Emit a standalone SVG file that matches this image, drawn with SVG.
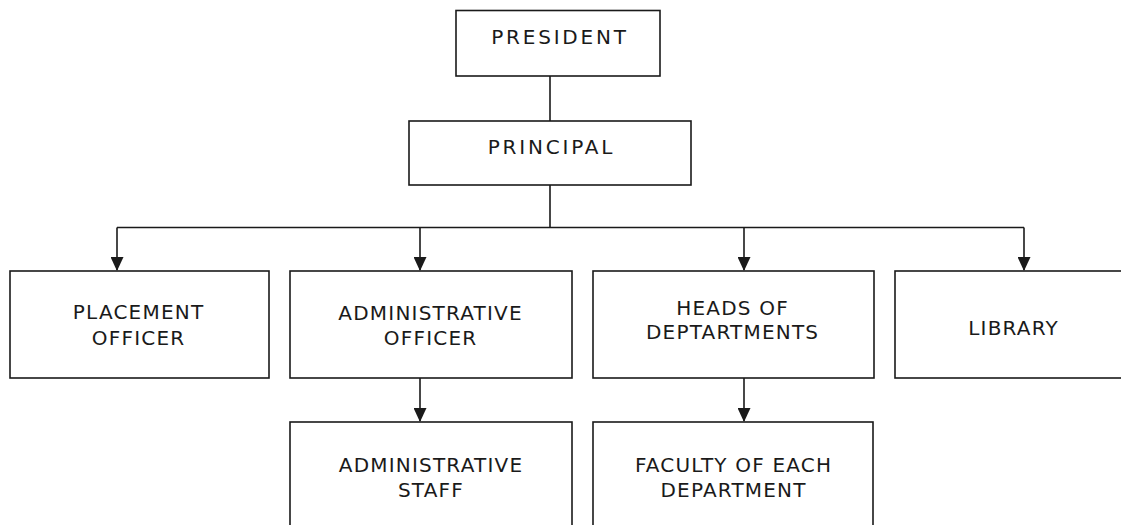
<svg xmlns="http://www.w3.org/2000/svg" width="1121" height="525" viewBox="0 0 1121 525">
<defs>
<style>
.box{fill:#fff;stroke:#1a1a1a;stroke-width:1.6}
.t{font-family:"DejaVu Sans",Verdana,sans-serif;font-size:20px;fill:#1a1a1a;text-anchor:middle;letter-spacing:1.2px}
.tw{letter-spacing:2.8px}
.c{fill:none;stroke:#1a1a1a;stroke-width:1.6}
</style>
<marker id="ah" markerWidth="14" markerHeight="13" refX="13" refY="6.5" orient="auto" markerUnits="userSpaceOnUse">
<path d="M0,0 L14,6.5 L0,13 Z" fill="#1a1a1a"/>
</marker>
</defs>
<rect width="1121" height="525" fill="#fff"/>
<g id="connectors">
<path class="c" d="M550,76 V121"/>
<path class="c" d="M550,185 V227.5 M117,227.5 H1024"/>
<path class="c" d="M117,227.5 V270" marker-end="url(#ah)"/>
<path class="c" d="M420,227.5 V270" marker-end="url(#ah)"/>
<path class="c" d="M744,227.5 V270" marker-end="url(#ah)"/>
<path class="c" d="M1024,227.5 V270" marker-end="url(#ah)"/>
<path class="c" d="M420,378 V421" marker-end="url(#ah)"/>
<path class="c" d="M744,378 V421" marker-end="url(#ah)"/>
</g>
<g id="president">
<rect class="box" x="456" y="10.5" width="204" height="65.5"/>
<text class="t tw" x="560" y="44">PRESIDENT</text>
</g>
<g id="principal">
<rect class="box" x="409" y="121" width="282" height="64"/>
<text class="t tw" x="551.5" y="154">PRINCIPAL</text>
</g>
<g id="placement">
<rect class="box" x="10" y="271" width="259" height="107"/>
<text class="t" x="138.6" y="319">PLACEMENT</text>
<text class="t" x="138.6" y="345">OFFICER</text>
</g>
<g id="admin-officer">
<rect class="box" x="290" y="271" width="282" height="107"/>
<text class="t" x="430.6" y="320">ADMINISTRATIVE</text>
<text class="t" x="430.6" y="345">OFFICER</text>
</g>
<g id="heads">
<rect class="box" x="593" y="271" width="281" height="107"/>
<text class="t" x="732.6" y="315">HEADS OF</text>
<text class="t" x="732.6" y="339">DEPTARTMENTS</text>
</g>
<g id="library">
<rect class="box" x="895" y="271" width="236" height="107"/>
<text class="t" x="1013.6" y="335">LIBRARY</text>
</g>
<g id="admin-staff">
<rect class="box" x="290" y="422" width="282" height="120"/>
<text class="t" x="431" y="472">ADMINISTRATIVE</text>
<text class="t" x="431" y="497">STAFF</text>
</g>
<g id="faculty">
<rect class="box" x="593" y="422" width="280" height="120"/>
<text class="t" x="733.6" y="472">FACULTY OF EACH</text>
<text class="t" x="733.6" y="497">DEPARTMENT</text>
</g>
</svg>
